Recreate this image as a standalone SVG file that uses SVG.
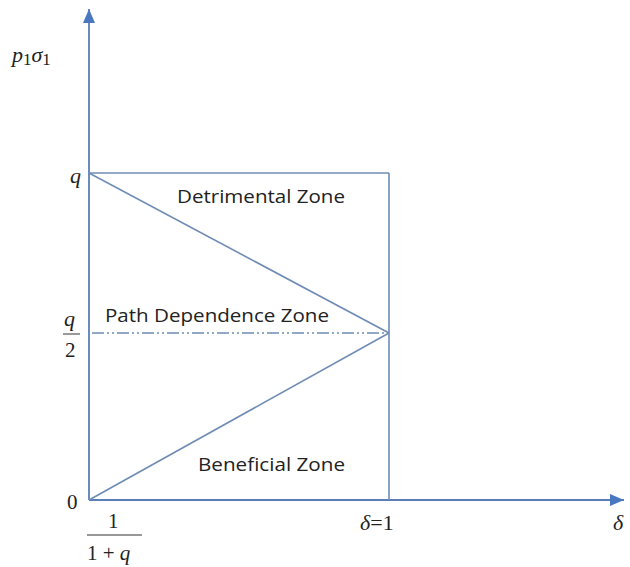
<svg xmlns="http://www.w3.org/2000/svg" width="630" height="567" viewBox="0 0 630 567">
<style>
.ln{stroke:#6f8cb5;stroke-width:1.6;fill:none}
.ax{stroke:#5b7fb8;stroke-width:1.8;fill:none}
.zone{font-family:"Open Sans","Liberation Sans",sans-serif;font-size:18px;fill:#222}
.m{font-family:"Liberation Serif",serif;font-style:italic;font-size:22px;fill:#222}
.mn{font-family:"Liberation Serif",serif;font-size:21px;fill:#222}
</style>
<defs>
<marker id="ah2" viewBox="0 0 14 12" refX="14" refY="6" markerWidth="14" markerHeight="12" markerUnits="userSpaceOnUse" orient="auto">
<path d="M0,0 L14,6 L0,12 Z" fill="#4a78c0"/>
</marker>
</defs>
<rect width="630" height="567" fill="#fff"/>
<g id="connectors">
<line class="ax" x1="89" y1="500" x2="89" y2="9" marker-end="url(#ah2)"/>
<line class="ax" x1="89" y1="500" x2="624" y2="500" marker-end="url(#ah2)"/>
<line class="ln" x1="89" y1="173" x2="389" y2="173"/>
<line class="ln" x1="389" y1="173" x2="389" y2="500"/>
<line class="ln" x1="89" y1="173" x2="389" y2="333"/>
<line class="ln" x1="89" y1="500" x2="389" y2="333"/>
<line class="ln" x1="92" y1="333" x2="389" y2="333" stroke-dasharray="12,3,2,3,2,3" stroke-width="1.4"/>
</g>
<g id="zones">
<text class="zone" x="177" y="203" textLength="168" lengthAdjust="spacingAndGlyphs">Detrimental Zone</text>
<text class="zone" x="105" y="322" textLength="224" lengthAdjust="spacingAndGlyphs">Path Dependence  Zone</text>
<text class="zone" x="198" y="471" textLength="147" lengthAdjust="spacingAndGlyphs">Beneficial Zone</text>
</g>
<g id="labels">
<text class="m" x="12" y="62" font-size="25">p<tspan font-size="17" dy="3" font-style="normal">1</tspan><tspan dy="-3">σ</tspan><tspan font-size="17" dy="3" font-style="normal">1</tspan></text>
<text class="m" x="70" y="183">q</text>
<text class="m" x="64" y="326">q</text>
<line x1="63" y1="334" x2="80" y2="334" stroke="#333" stroke-width="1"/>
<text class="mn" x="65" y="357">2</text>
<text class="mn" x="67" y="509">0</text>
<text class="mn" x="108" y="528">1</text>
<line x1="87" y1="535" x2="142" y2="535" stroke="#333" stroke-width="1"/>
<text class="mn" x="87" y="560">1 + <tspan font-style="italic">q</tspan></text>
<text class="m" x="360" y="530">δ<tspan font-style="normal">=1</tspan></text>
<text class="m" x="613" y="530">δ</text>
</g>
</svg>
